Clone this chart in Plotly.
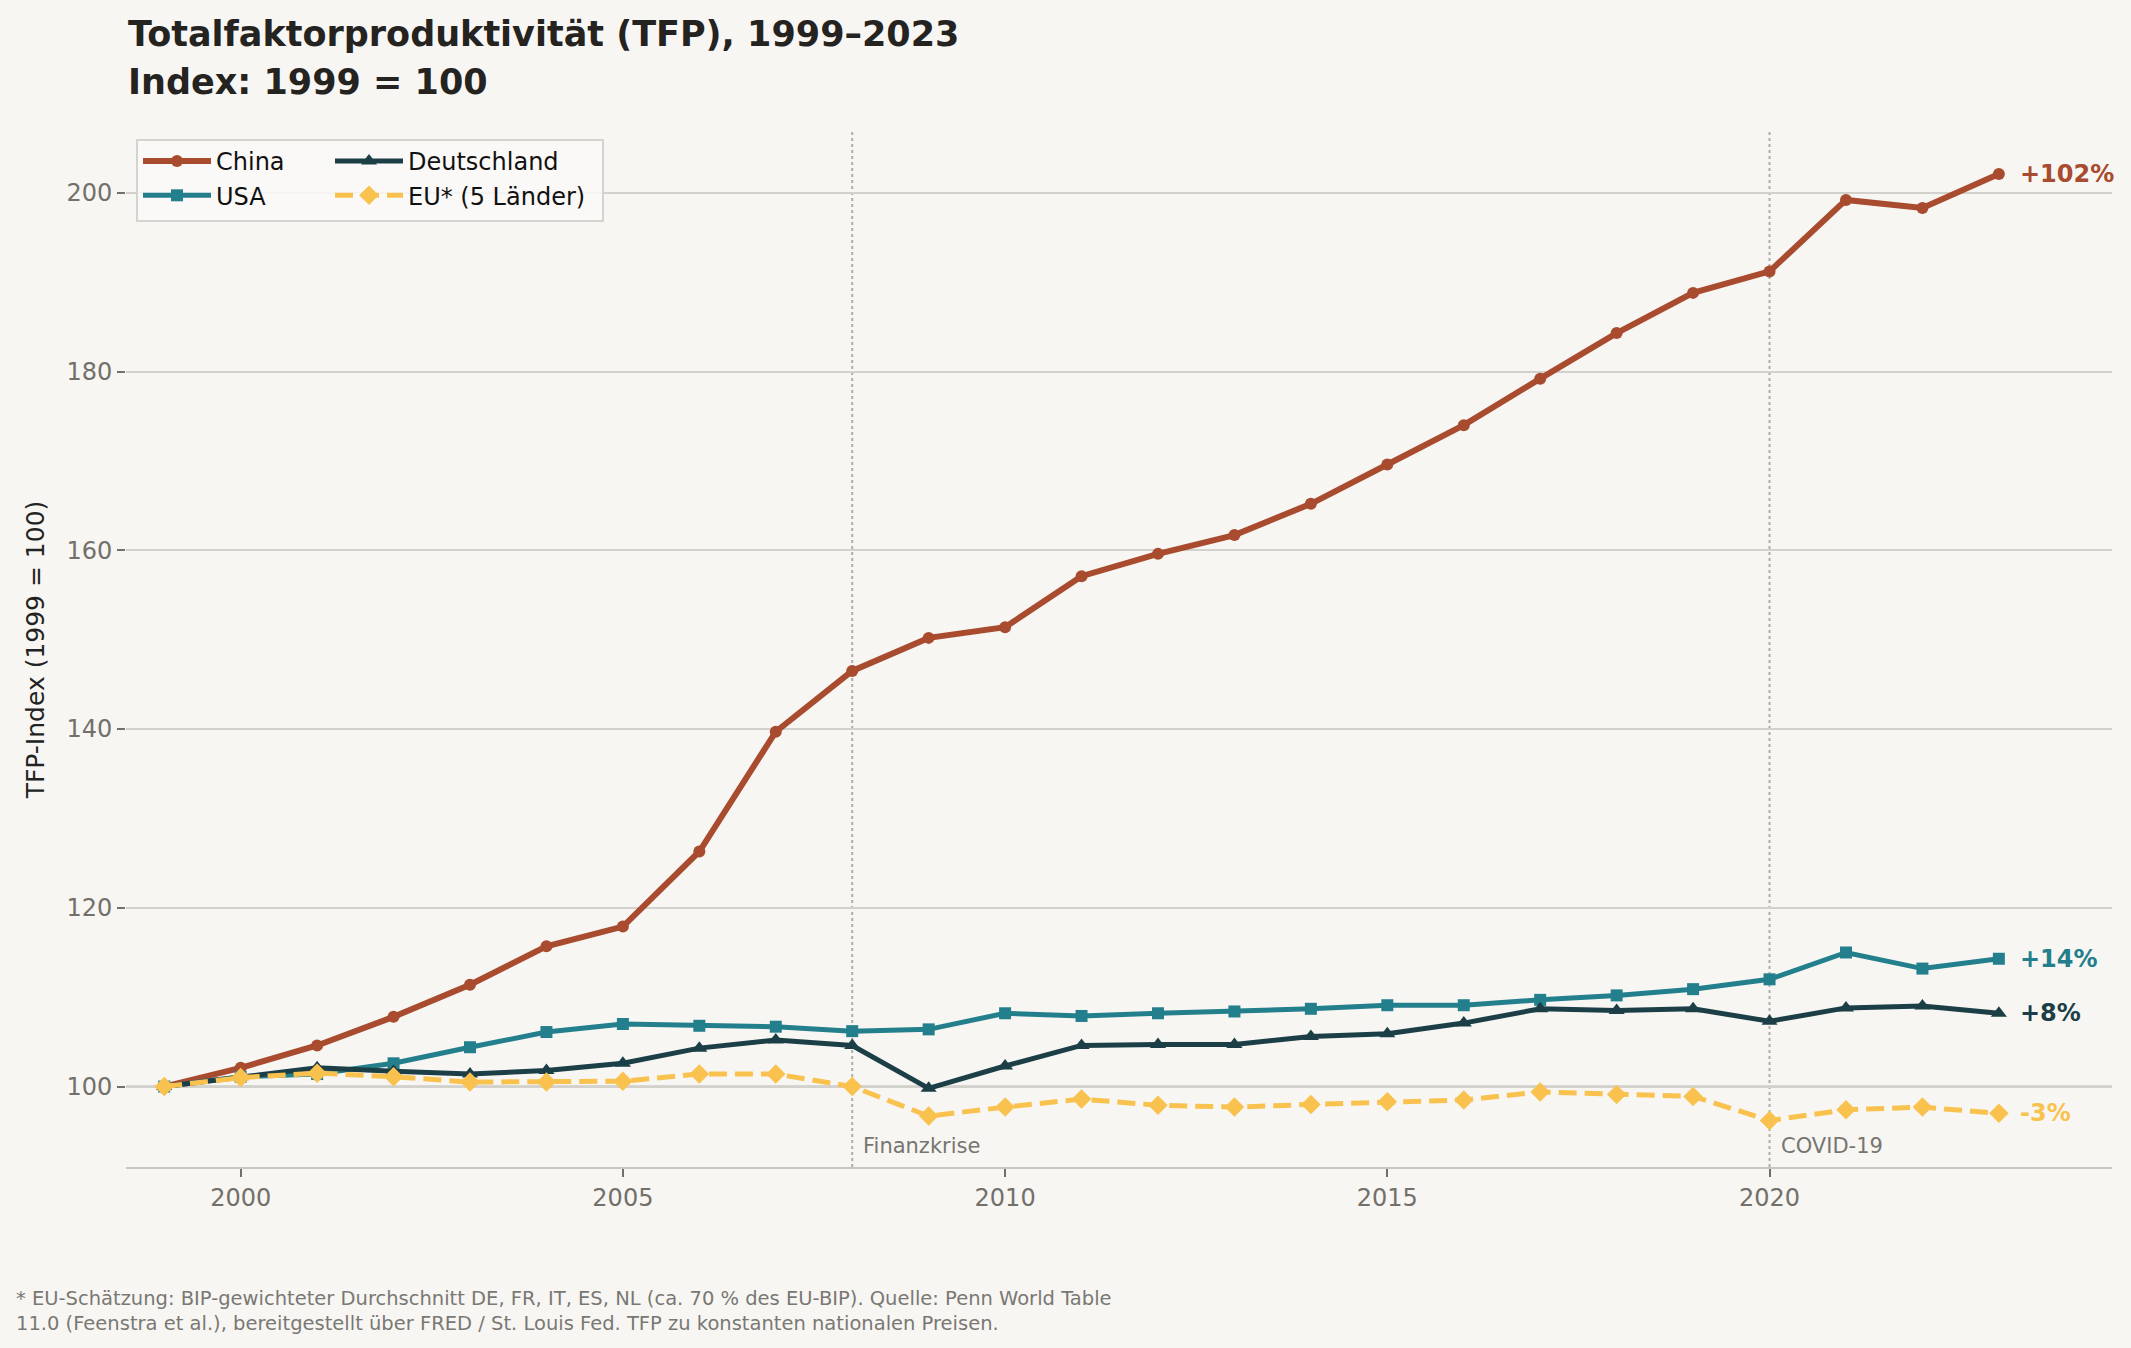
import plotly.graph_objects as go

# ---- data ----
years = list(range(1999, 2024))

china = [100.0, 102.1, 104.6, 107.8, 111.4, 115.7, 117.9, 126.3, 139.7, 146.5,
         150.2, 151.4, 157.1, 159.6, 161.7, 165.2, 169.6, 174.0, 179.2, 184.3,
         188.8, 191.2, 199.2, 198.3, 202.1]
usa = [100.0, 101.1, 101.4, 102.6, 104.4, 106.1, 107.0, 106.8, 106.7, 106.2,
       106.4, 108.2, 107.9, 108.2, 108.4, 108.7, 109.1, 109.1, 109.7, 110.2,
       110.9, 112.0, 115.0, 113.2, 114.3]
deutschland = [100.0, 101.1, 102.1, 101.7, 101.4, 101.8, 102.6, 104.3, 105.2, 104.6,
               99.8, 102.3, 104.6, 104.7, 104.7, 105.6, 105.9, 107.1, 108.7, 108.5,
               108.7, 107.3, 108.8, 109.0, 108.2]
eu5 = [100.0, 101.0, 101.5, 101.1, 100.5, 100.5, 100.6, 101.4, 101.4, 100.0,
       96.7, 97.7, 98.6, 97.9, 97.7, 98.0, 98.3, 98.5, 99.4, 99.1,
       98.9, 96.2, 97.4, 97.7, 97.0]

events = [2008, 2020]
event_labels = ["Finanzkrise", "COVID-19"]

end_labels = ["+102%", "+14%", "+8%", "-3%"]

FONT = "DejaVu Sans, Verdana, sans-serif"
BG = "#F7F6F3"
GRID = "#D3D1CC"
TICK = "#727069"

W, H = 2131, 1348
ML, MR, MT, MB = 126, 19, 132, 181
PW, PH = W - ML - MR, H - MT - MB

series = [
    # name, values, colour, symbol, width, dash, size, legend group
    ("China", china, "#A94B2E", "circle", 6, "solid", 12, "legend"),
    ("USA", usa, "#237F8C", "square", 5, "solid", 12, "legend"),
    ("Deutschland", deutschland, "#1C3F47", "triangle-up", 5, "solid", 14, "legend2"),
    ("EU* (5 Länder)", eu5, "#F9C24F", "diamond", 5, "18px,8px", 15, "legend2"),
]

fig = go.Figure()

for (name, vals, col, sym, w, dash, size, leg), lab in zip(series, end_labels):
    fig.add_trace(go.Scatter(
        x=years, y=vals, name=name, mode="lines+markers",
        line=dict(color=col, width=w, dash=dash),
        marker=dict(symbol=sym, size=size, color=col),
        legend=leg,
    ))
    # end-of-line label
    fig.add_annotation(
        x=years[-1], y=vals[-1], text=f"<b>{lab}</b>",
        xanchor="left", yanchor="middle", xshift=19, showarrow=False,
        font=dict(family=FONT, size=24, color=col),
    )

# event markers
for yr, lab in zip(events, event_labels):
    fig.add_vline(x=yr, line=dict(color="#AFADA8", width=2, dash="dot"), layer="below")
    fig.add_annotation(
        x=yr, y=93.3, text=lab, xanchor="left", yanchor="middle", xshift=9,
        showarrow=False, font=dict(family=FONT, size=21, color="#77756F"),
    )

# baseline at 100
fig.add_hline(y=100, line=dict(color="#B8B6B1", width=2), layer="below")

# legend frame (two legend columns share one box)
fig.add_shape(
    type="rect", xref="paper", yref="paper", layer="above",
    x0=(137 - ML) / PW, x1=(603 - ML) / PW,
    y0=1 - (221 - MT) / PH, y1=1 - (140 - MT) / PH,
    line=dict(color="#D5D3CE", width=2), fillcolor="rgba(250,249,247,0.85)",
)

legend_style = dict(
    yanchor="top", xanchor="left", y=1 - (139 - MT) / PH,
    bgcolor="rgba(0,0,0,0)", borderwidth=0, itemwidth=68, tracegroupgap=0,
    font=dict(family=FONT, size=24, color="#111"),
)

# title, two bold lines
fig.add_annotation(
    xref="paper", yref="paper", x=0, y=1 + (MT - 34) / PH,
    xanchor="left", yanchor="middle", showarrow=False,
    text="<b>Totalfaktorproduktivität (TFP), 1999–2023</b>",
    font=dict(family=FONT, size=35, color="#24231F"),
)
fig.add_annotation(
    xref="paper", yref="paper", x=0, y=1 + (MT - 82) / PH,
    xanchor="left", yanchor="middle", showarrow=False,
    text="<b>Index: 1999 = 100</b>",
    font=dict(family=FONT, size=35, color="#24231F"),
)

fig.update_layout(
    width=W, height=H,
    paper_bgcolor=BG, plot_bgcolor=BG,
    font=dict(family=FONT, size=24, color="#222"),
    margin=dict(l=ML, r=MR, t=MT, b=MB),
    legend=dict(x=(138 - ML) / PW, **legend_style),
    legend2=dict(x=(330 - ML) / PW, **legend_style),
    xaxis=dict(
        range=[1998.5, 2024.48],
        tickvals=[2000, 2005, 2010, 2015, 2020],
        showgrid=False, zeroline=False,
        showline=True, linecolor="#C9C7C2", linewidth=2,
        ticks="outside", ticklen=8, tickcolor=TICK, tickwidth=1.5,
        tickfont=dict(family=FONT, size=24, color=TICK),
    ),
    yaxis=dict(
        range=[91.0, 206.8],
        tickvals=[100, 120, 140, 160, 180, 200],
        showgrid=True, gridcolor=GRID, gridwidth=1.5, zeroline=False,
        showline=False,
        ticks="outside", ticklen=8, tickcolor=TICK, tickwidth=1.5,
        tickfont=dict(family=FONT, size=24, color=TICK),
        title=dict(text="TFP-Index (1999 = 100)", standoff=14,
                   font=dict(family=FONT, size=25, color="#222")),
    ),
)

# footnote
fig.add_annotation(
    xref="paper", yref="paper", x=(14 - ML) / PW, y=-(1285 - MT - PH) / PH,
    xanchor="left", yanchor="top", align="left", showarrow=False,
    text=("* EU-Schätzung: BIP-gewichteter Durchschnitt DE, FR, IT, ES, NL (ca. 70 % des EU-BIP). "
          "Quelle: Penn World Table<br>11.0 (Feenstra et al.), bereitgestellt über FRED / St. Louis Fed. "
          "TFP zu konstanten nationalen Preisen."),
    font=dict(family=FONT, size=19.5, color="#7A7873"),
)

fig.write_html(
    "out.html",
    config={"displayModeBar": False},
    post_script="document.body.style.margin='0';document.body.style.background='#F7F6F3';",
)
